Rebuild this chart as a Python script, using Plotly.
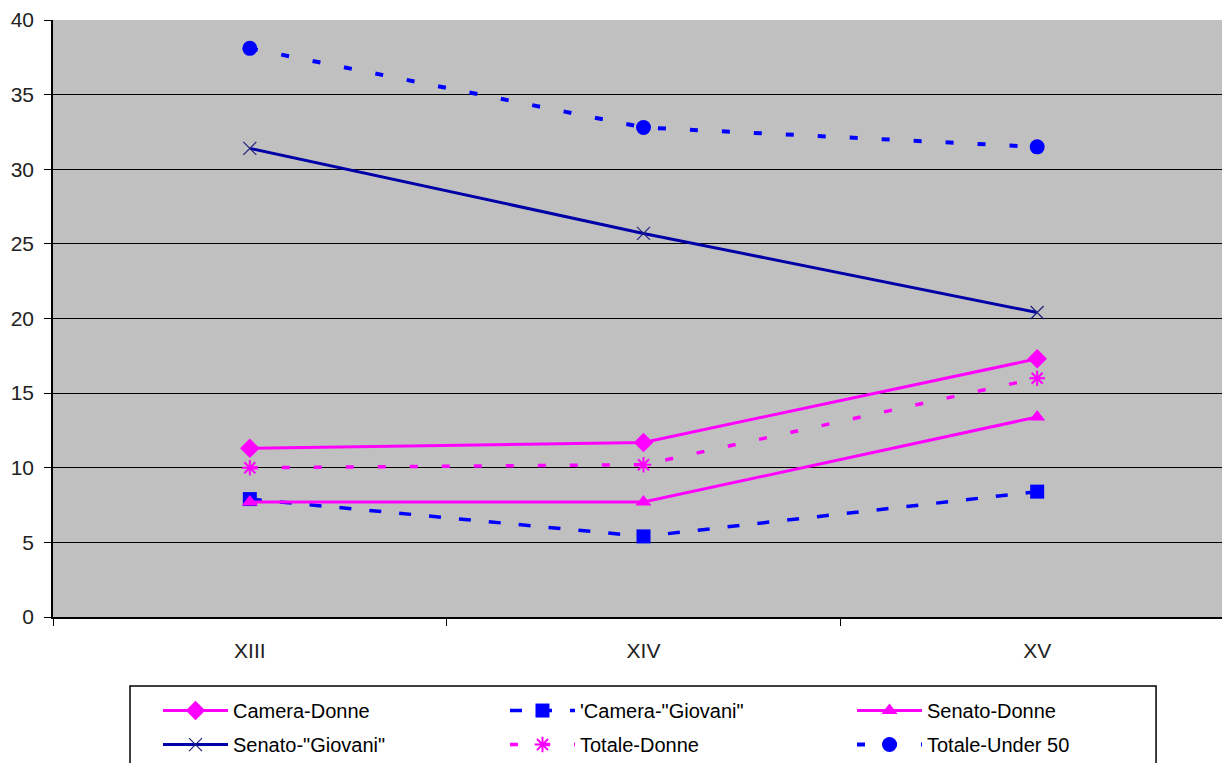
import plotly.graph_objects as go

categories = ["XIII", "XIV", "XV"]
camera_donne = [11.3, 11.7, 17.3]
camera_giovani = [7.9, 5.4, 8.4]
senato_donne = [7.7, 7.7, 13.4]
senato_giovani = [31.4, 25.7, 20.4]
totale_donne = [10.0, 10.2, 16.0]
totale_under50 = [38.1, 32.8, 31.5]

MAG = "#FF00FF"
BLUE = "#0000FF"
NAVY = "#0000A8"

fig = go.Figure()
fig.add_trace(go.Scatter(x=categories, y=camera_donne, name="Camera-Donne", mode="lines+markers",
                         legend="legend",
                         line=dict(color=MAG, width=3),
                         marker=dict(symbol="diamond", size=15, color=MAG)))
fig.add_trace(go.Scatter(x=categories, y=camera_giovani, name="'Camera-\"Giovani\"", mode="lines+markers",
                         legend="legend",
                         line=dict(color=BLUE, width=3.5, dash="12px,18px"),
                         marker=dict(symbol="square", size=14, color=BLUE)))
fig.add_trace(go.Scatter(x=categories, y=senato_donne, name="Senato-Donne", mode="lines+markers",
                         legend="legend",
                         line=dict(color=MAG, width=3),
                         marker=dict(symbol="triangle-up", size=14, color=MAG)))
fig.add_trace(go.Scatter(x=categories, y=senato_giovani, name="Senato-\"Giovani\"", mode="lines+markers",
                         legend="legend2",
                         line=dict(color=NAVY, width=3),
                         marker=dict(symbol="x-thin-open", size=13, color="#202080",
                                     line=dict(color="#202080", width=1.2))))
fig.add_trace(go.Scatter(x=categories, y=totale_donne, name="Totale-Donne", mode="lines+markers",
                         legend="legend2",
                         line=dict(color=MAG, width=3.5, dash="8px,24px"),
                         marker=dict(symbol="asterisk-open", size=13, color=MAG,
                                     line=dict(color=MAG, width=2))))
fig.add_trace(go.Scatter(x=categories, y=totale_under50, name="Totale-Under 50", mode="lines+markers",
                         legend="legend2",
                         line=dict(color=BLUE, width=4, dash="8px,24px"),
                         marker=dict(symbol="circle", size=15, color=BLUE)))

legend_common = dict(orientation="h", xanchor="left", yanchor="top",
                     borderwidth=0, bgcolor="rgba(0,0,0,0)",
                     entrywidth=267, entrywidthmode="pixels", itemwidth=65,
                     font=dict(size=20, color="black"), traceorder="normal")

fig.update_layout(
    width=1230, height=763,
    margin=dict(l=45, r=4, t=12, b=154, autoexpand=False),
    paper_bgcolor="white",
    plot_bgcolor="#C0C0C0",
    font=dict(family="Liberation Sans, Arial, sans-serif", size=21, color="black"),
    showlegend=True,
    legend=dict(x=0.0889, y=-0.124, **legend_common),
    legend2=dict(x=0.0889, y=-0.181, **legend_common),
    shapes=[dict(type="rect", xref="paper", yref="paper", x0=0.0652, x1=0.934,
                 y0=-0.1156, y1=-0.4, line=dict(color="black", width=1.5),
                 fillcolor="rgba(0,0,0,0)", layer="below")],
)
fig.update_xaxes(type="category", range=[-0.5, 2.5], showline=True, linecolor="black", linewidth=1.5,
                 ticks="outside", tickson="boundaries", ticklen=7, tickcolor="black",
                 ticklabelstandoff=14,
                 showgrid=False, zeroline=False, tickfont=dict(color="#222222", size=21))
fig.update_yaxes(range=[0, 40], dtick=5, showline=True, linecolor="black", linewidth=1.5,
                 ticks="outside", ticklen=7, tickcolor="black", ticklabelstandoff=6,
                 showgrid=True, gridcolor="black", gridwidth=1, zeroline=False,
                 tickfont=dict(color="#222222", size=21))

fig.write_html("out.html")
